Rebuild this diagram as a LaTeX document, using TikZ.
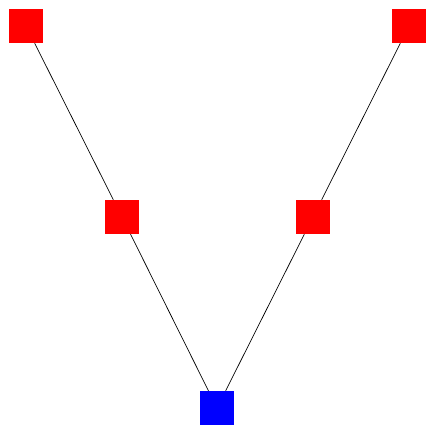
\documentclass[tikz,border=0pt]{standalone}
\usetikzlibrary{positioning}

\begin{document}
\begin{tikzpicture}[
    x=1pt, y=1pt,
    leaf/.style={rectangle, fill=red, minimum size=34pt, inner sep=0pt},
    root/.style={rectangle, fill=blue, minimum size=34pt, inner sep=0pt},
    edge/.style={black, line width=0.7pt}
]
\useasboundingbox (0,0) rectangle (426,429);
\node[leaf] (1) at (26,403) {};
\node[leaf] (2) at (409,403) {};
\node[leaf] (3) at (122,212) {};
\node[leaf] (4) at (313,212) {};
\node[root] (5) at (217,21) {};
\draw[edge] (1) -- (3);
\draw[edge] (3) -- (5);
\draw[edge] (2) -- (4);
\draw[edge] (4) -- (5);
\end{tikzpicture}
\end{document}
